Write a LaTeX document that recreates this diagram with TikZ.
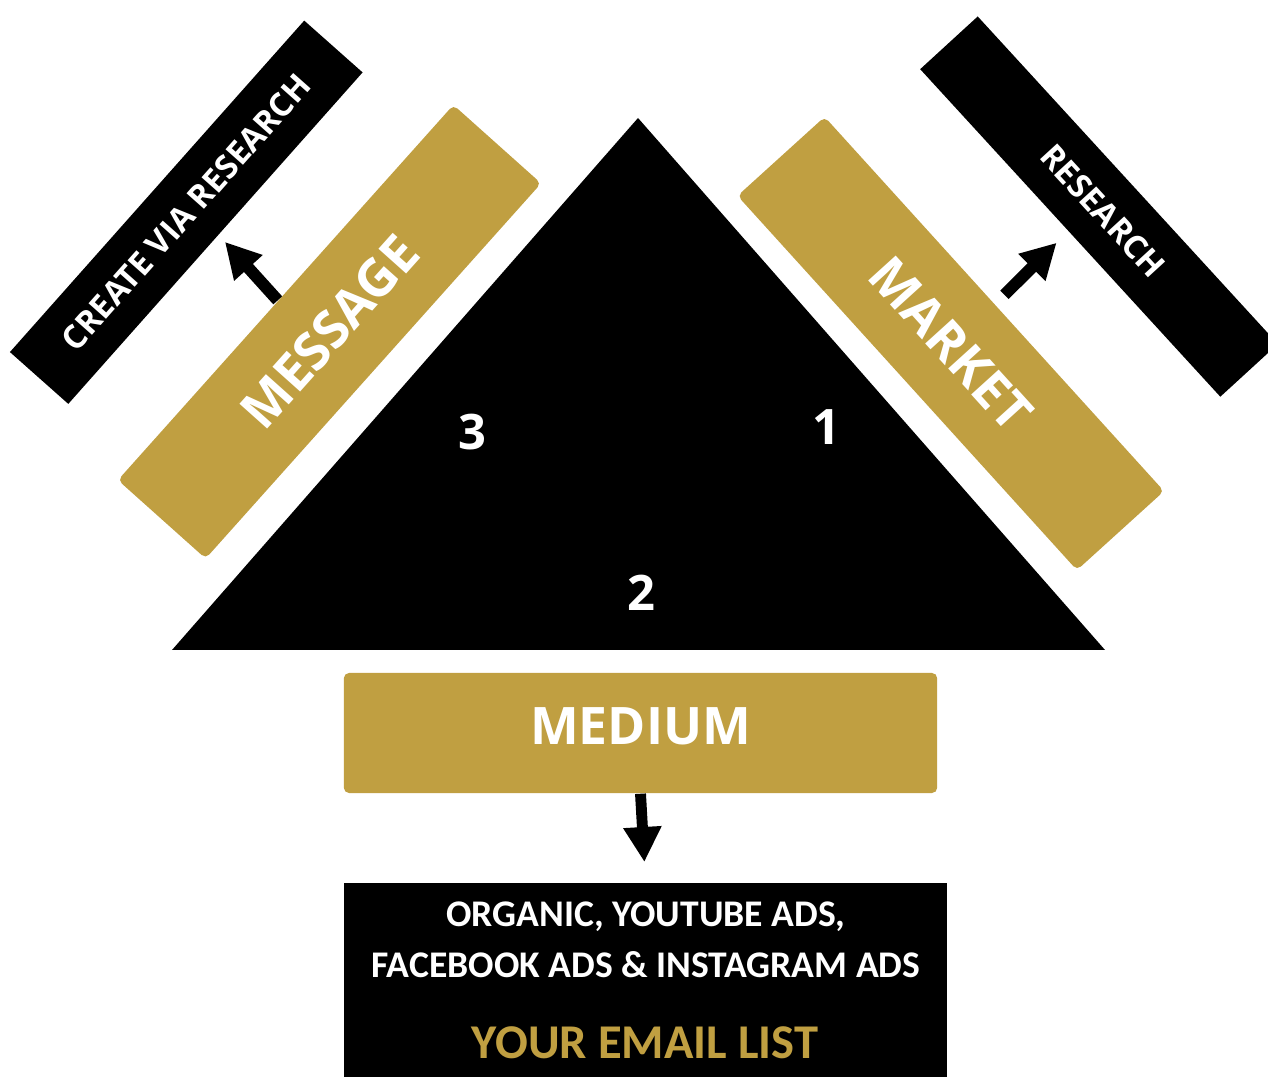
\documentclass[tikz,border=0pt]{standalone}
\usepackage{fontspec}
\setmainfont{Open Sans}
\newfontfamily\narrowfont{Carlito}
\usetikzlibrary{calc,arrows.meta}
\definecolor{gold}{RGB}{192,159,65}

\begin{document}
\begin{tikzpicture}[x=0.01cm,y=-0.01cm,
	goldbar/.style={fill=gold,rounded corners=1.5pt,text=white,inner sep=0pt,font=\bfseries\fontsize{14.8}{17}\selectfont},
	blackbar/.style={fill=black,text=white,inner sep=0pt,font=\bfseries\fontsize{9.3}{11}\selectfont},
	num/.style={text=white,font=\bfseries\fontsize{13.9}{16}\selectfont},
	listtext/.style={text=white,font=\narrowfont\bfseries\fontsize{10.7}{12}\selectfont},
	bigarrow/.style={line width=3.4pt,-{Triangle[length=0.35cm,width=0.36cm]}}]
		\clip (0,0) rectangle (1268,1077);
		\fill[white] (0,0) rectangle (1268,1077);
		\fill[black] (638,118)--(1105,650)--(172,650)--cycle;
		\node[num] (three) at (472,432) {3};
		\node[num] (one) at (826,427) {1};
		\node[num] (two) at (641,593) {2};
		\node[goldbar,rotate=48.2,minimum width=5.03cm,minimum height=1.176cm] (message) at (329.5,331.75) {MESSAGE};
		\node[blackbar,rotate=48.4,minimum width=4.43cm,minimum height=0.78cm] (create) at (186.25,212.25) {CREATE VIA RESEARCH};
		\node[goldbar,rotate=-47.8,minimum width=5.05cm,minimum height=1.175cm] (market) at (950.75,343.5) {MARKET};
		\node[blackbar,rotate=-47.5,minimum width=4.44cm,minimum height=0.78cm] (research) at (1099,206.6) {\hspace{0.12cm}RESEARCH};
		\node[goldbar,minimum width=5.93cm,minimum height=1.2cm,text depth=0.13cm,font=\bfseries\fontsize{14.7}{17}\selectfont] (medium) at (640.5,733) {MEDIUM};
		\node[fill=black,inner sep=0pt,minimum width=6.03cm,minimum height=2.1cm,anchor=north] (email) at (645.5,882) {};
		\node[listtext] (organic) at (646,917) {ORGANIC, YOUTUBE ADS,};
		\node[listtext] (facebook) at (646,965) {FACEBOOK ADS \& INSTAGRAM ADS};
		\node[text=gold,font=\narrowfont\bfseries\fontsize{13.8}{15}\selectfont] (emaillist) at (645,1043) {YOUR EMAIL LIST};
		\draw[bigarrow,shorten >=0.09cm] ($(message.north west)!0.478!(message.north east)$)--($(create.south west)!0.51!(create.south east)$);
		\draw[bigarrow,shorten >=0.16cm] ($(market.north west)!0.5!(market.north east)!0.13cm!90:(market.north east)$)--($(research.south west)!0.494!(research.south east)$);
		\draw[bigarrow,line width=3.1pt,shorten >=0.2cm] (medium.south)--(email.north);
	\end{tikzpicture}
\end{document}
